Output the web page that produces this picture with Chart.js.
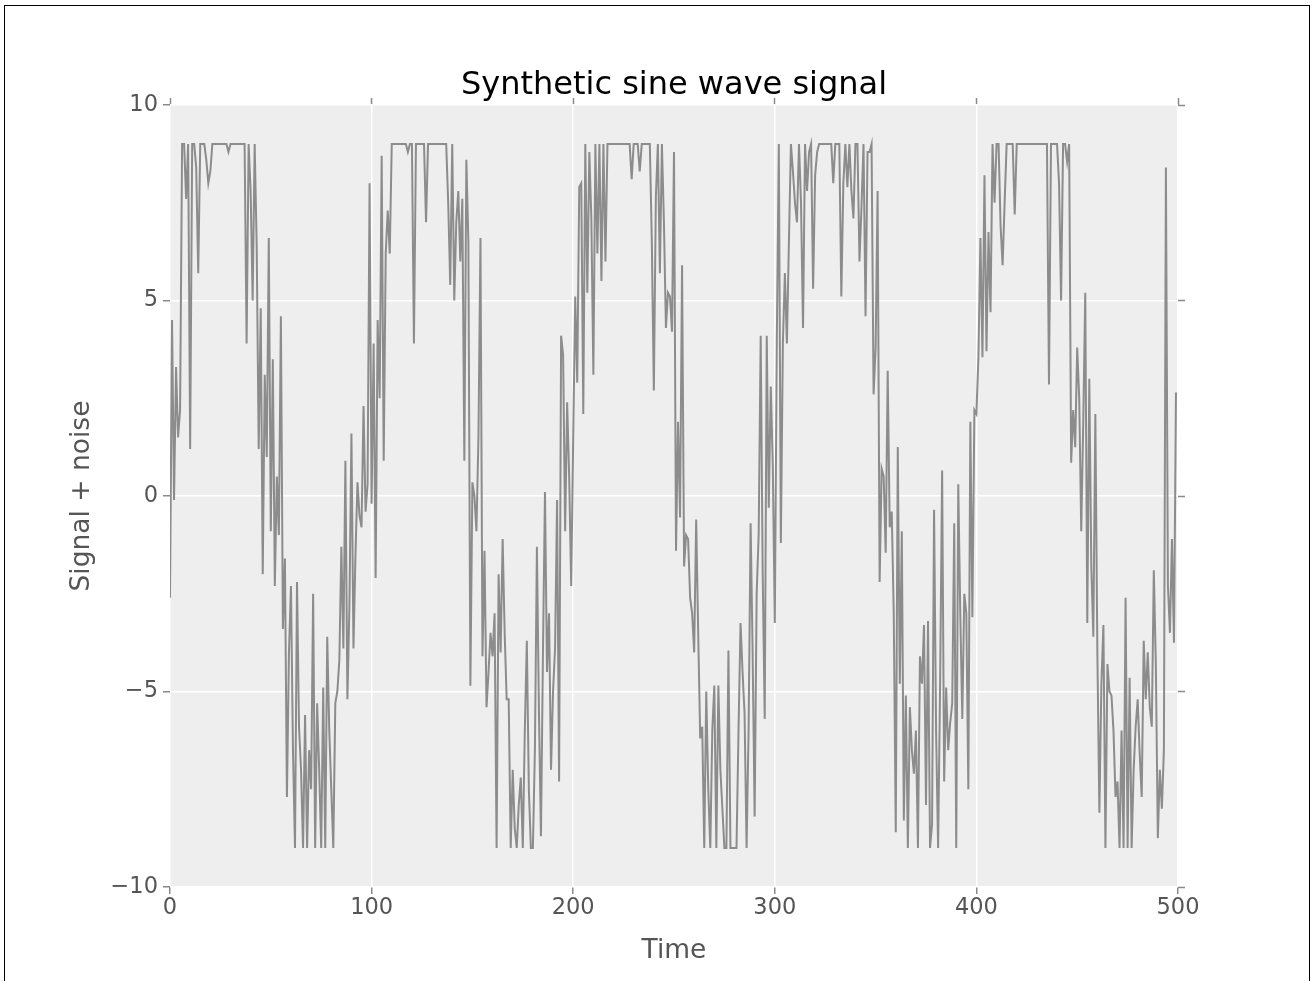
<!DOCTYPE html>
<html><head><meta charset="utf-8">
<script src="https://cdn.jsdelivr.net/npm/chart.js@4.4.1/dist/chart.umd.min.js"></script>
<style>
html,body{margin:0;padding:0;background:#fff;}
#wrap{position:relative;width:1315px;height:981px;overflow:hidden;}
#frame{position:absolute;left:4px;top:5px;width:1306px;height:1000px;border:1.5px solid #000;box-sizing:border-box;pointer-events:none;}
canvas{position:absolute;left:0;top:0;}
</style></head><body>
<div id="wrap"><canvas id="c" width="1315" height="981"></canvas><div id="frame"></div></div>
<script>
const signal = [
 -2.6, 4.5, -0.1, 3.3, 1.5, 2.2, 9.0, 9.0, 7.6, 9.0,
 1.2, 9.0, 9.0, 8.4, 5.7, 9.0, 9.0, 9.0, 8.6, 8.0,
 8.3, 9.0, 9.0, 9.0, 9.0, 9.0, 9.0, 9.0, 9.0, 8.8,
 9.0, 9.0, 9.0, 9.0, 9.0, 9.0, 9.0, 9.0, 3.9, 9.0,
 7.8, 5.0, 9.0, 6.4, 1.2, 4.8, -2.0, 3.1, 1.0, 6.6,
 -0.9, 3.5, -2.3, 0.5, -1.0, 4.6, -3.4, -1.6, -7.7, -4.0,
 -2.3, -6.5, -9.0, -2.2, -5.9, -7.0, -9.0, -5.6, -9.0, -6.5,
 -7.5, -2.5, -9.0, -5.3, -7.0, -9.0, -4.9, -9.0, -3.6, -6.0,
 -7.5, -9.0, -5.3, -5.0, -4.2, -1.3, -3.9, 0.9, -5.2, -2.8,
 1.6, -3.9, -1.5, 0.35, -0.5, -0.8, 2.3, -0.4, 0.3, 8.0,
 -0.2, 3.9, -2.1, 4.5, 2.5, 8.7, 0.9, 6.2, 7.3, 6.2,
 9.0, 9.0, 9.0, 9.0, 9.0, 9.0, 9.0, 9.0, 8.8, 9.0,
 9.0, 3.9, 9.0, 9.0, 9.0, 9.0, 9.0, 7.0, 9.0, 9.0,
 9.0, 9.0, 9.0, 9.0, 9.0, 9.0, 9.0, 9.0, 7.5, 5.4,
 9.0, 5.0, 7.0, 7.8, 6.0, 7.6, 0.9, 8.6, 6.5, -4.85,
 0.35, 0.0, -0.9, 1.5, 6.6, -4.1, -1.4, -5.4, -4.5, -3.5,
 -4.1, -3.0, -9.0, -2.0, -4.0, -1.1, -3.5, -5.2, -5.2, -9.0,
 -7.0, -8.5, -9.0, -7.9, -7.2, -9.0, -6.0, -3.7, -7.5, -9.0,
 -9.0, -6.5, -1.3, -5.5, -8.7, -4.0, 0.1, -4.5, -3.0, -7.0,
 -5.0, -3.9, -0.1, -7.3, 4.1, 3.6, -0.9, 2.4, 0.5, -2.3,
 1.5, 5.1, 2.9, 7.9, 8.0, 2.1, 9.0, 5.2, 8.8, 7.1,
 3.1, 9.0, 6.2, 9.0, 5.5, 9.0, 6.0, 9.0, 9.0, 9.0,
 9.0, 9.0, 9.0, 9.0, 9.0, 9.0, 9.0, 9.0, 9.0, 8.1,
 9.0, 9.0, 9.0, 8.3, 9.0, 9.0, 9.0, 9.0, 9.0, 6.5,
 2.7, 7.65, 9.0, 5.7, 9.0, 7.0, 4.3, 5.2, 5.1, 4.2,
 8.8, -1.4, 1.9, -0.55, 5.9, -1.8, -1.0, -1.1, -2.6, -3.0,
 -4.0, -0.6, -3.5, -6.2, -5.9, -9.0, -5.0, -7.5, -9.0, -6.0,
 -4.85, -9.0, -4.85, -7.0, -8.0, -9.0, -9.0, -3.95, -9.0, -9.0,
 -9.0, -9.0, -6.0, -3.25, -4.5, -5.55, -9.0, -6.0, -0.7, -4.0,
 -8.2, -2.5, -1.0, 4.1, -2.0, -5.7, 4.1, -0.3, 2.8, 0.8,
 -3.25, 4.0, 9.0, -1.2, 3.9, 5.7, 3.9, 6.5, 9.0, 8.3,
 7.5, 7.0, 9.0, 7.5, 4.3, 9.0, 7.8, 8.8, 9.0, 5.3,
 8.2, 8.8, 9.0, 9.0, 9.0, 9.0, 9.0, 9.0, 9.0, 8.0,
 9.0, 9.0, 9.0, 5.1, 8.0, 9.0, 7.9, 9.0, 7.8, 7.1,
 9.0, 9.0, 6.0, 7.4, 9.0, 4.6, 8.8, 8.8, 9.0, 2.6,
 3.8, 7.8, -2.2, 0.7, 0.5, -1.45, 3.2, -0.8, -0.4, -3.0,
 -8.6, 1.25, -4.8, -0.9, -8.3, -5.1, -9.0, -5.4, -6.5, -7.1,
 -6.0, -9.0, -4.1, -4.8, -3.3, -7.9, -3.2, -9.0, -8.4, -0.35,
 -6.0, -9.0, -4.8, 0.65, -7.3, -4.9, -6.5, -5.8, -5.3, -0.7,
 -9.0, 0.3, -3.0, -5.7, -2.5, -3.0, -7.5, 1.9, -3.1, 2.2,
 2.1, 3.55, 6.6, 3.55, 8.2, 3.7, 6.75, 4.7, 9.0, 7.5,
 9.0, 9.0, 6.9, 5.9, 7.5, 9.0, 9.0, 9.0, 9.0, 7.2,
 9.0, 9.0, 9.0, 9.0, 9.0, 9.0, 9.0, 9.0, 9.0, 9.0,
 9.0, 9.0, 9.0, 9.0, 9.0, 9.0, 2.85, 9.0, 9.0, 9.0,
 9.0, 8.0, 5.0, 9.0, 9.0, 8.55, 9.0, 0.85, 2.2, 1.25,
 3.8, 2.5, -0.9, 1.9, 5.2, -3.25, 3.0, -1.8, -3.6, 2.1,
 -4.0, -8.1, -4.8, -3.3, -9.0, -4.3, -5.0, -5.1, -6.0, -7.7,
 -7.3, -9.0, -6.0, -9.0, -2.6, -9.0, -4.65, -9.0, -7.0, -5.9,
 -5.2, -6.6, -7.7, -3.7, -5.2, -4.0, -5.4, -5.9, -1.9, -4.3,
 -8.75, -7.0, -8.0, -6.5, 8.4, -2.3, -3.5, -1.1, -3.75, 2.65
];
const xTickValues = [0, 100, 200, 300, 400, 500];
const xTickLabels = ['0', '100', '200', '300', '400', '500'];
const yTickValues = [-10, -5, 0, 5, 10];
const yTickLabels = ['\u221210', '\u22125', '0', '5', '10'];
const titleText = 'Synthetic sine wave signal';
const xAxisLabel = 'Time';
const yAxisLabel = 'Signal + noise';

const FONT = '"DejaVu Sans", "Liberation Sans", sans-serif';
const TICKCOL = '#555555';
const TICKMARK = '#8a8a8a';

const points = signal.map((v, i) => ({x: i, y: v}));

const plotBg = {
  id: 'plotBg',
  beforeDraw(chart) {
    const a = chart.chartArea, ctx = chart.ctx;
    ctx.save();
    ctx.fillStyle = '#eeeeee';
    ctx.fillRect(a.left, a.top, a.right - a.left, a.bottom - a.top);
    ctx.restore();
  }
};

function fixTicks(values) {
  return function(scale) { scale.ticks = values.map(v => ({value: v})); };
}
function labelFrom(values, labels) {
  return function(v) { const i = values.indexOf(v); return i >= 0 ? labels[i] : ''; };
}

new Chart(document.getElementById('c'), {
  type: 'line',
  data: {
    datasets: [{
      data: points,
      borderColor: '#8c8c8c',
      borderWidth: 2,
      pointRadius: 0,
      tension: 0,
      fill: false
    }]
  },
  options: {
    responsive: false,
    animation: false,
    events: [],
    layout: {padding: 0},
    plugins: {
      legend: {display: false},
      tooltip: {enabled: false},
      title: {
        display: true,
        fullSize: false,
        text: titleText,
        color: '#000000',
        font: {family: FONT, size: 32, weight: 'normal', lineHeight: 1.2},
        padding: {top: 66, bottom: 0}
      }
    },
    scales: {
      x: {
        type: 'linear', position: 'bottom', min: 0, max: 500,
        afterBuildTicks: fixTicks(xTickValues),
        afterFit(s) { s.height = 94; },
        border: {display: false},
        grid: {color: '#ffffff', lineWidth: 1.5, tickColor: TICKMARK, tickLength: 7, tickWidth: 1.5},
        ticks: {color: TICKCOL, font: {family: FONT, size: 22.5}, padding: 1, maxRotation: 0,
                callback: labelFrom(xTickValues, xTickLabels)},
        title: {display: true, text: xAxisLabel, color: TICKCOL,
                font: {family: FONT, size: 26.5, lineHeight: 1.2}, padding: {top: 0, bottom: 14}}
      },
      x2: {
        type: 'linear', position: 'top', min: 0, max: 500,
        afterBuildTicks: fixTicks(xTickValues),
        afterFit(s) { s.height = 0.6; },
        border: {display: false},
        grid: {drawOnChartArea: false, tickColor: TICKMARK, tickLength: 7, tickWidth: 1.5},
        ticks: {display: false}
      },
      y: {
        type: 'linear', position: 'left', min: -10, max: 10,
        afterBuildTicks: fixTicks(yTickValues),
        afterFit(s) { s.width = 170; },
        border: {display: false},
        grid: {color: '#ffffff', lineWidth: 1.5, tickColor: TICKMARK, tickLength: 7, tickWidth: 1.5},
        ticks: {color: TICKCOL, font: {family: FONT, size: 22.5}, padding: 5,
                callback: labelFrom(yTickValues, yTickLabels)},
        title: {display: true, text: yAxisLabel, color: TICKCOL,
                font: {family: FONT, size: 26.5, lineHeight: 1.2}, padding: {top: 66, bottom: 0}}
      },
      y2: {
        type: 'linear', position: 'right', min: -10, max: 10,
        afterBuildTicks: fixTicks(yTickValues),
        afterFit(s) { s.width = 137; },
        border: {display: false},
        grid: {drawOnChartArea: false, tickColor: TICKMARK, tickLength: 7, tickWidth: 1.5},
        ticks: {display: false}
      }
    }
  },
  plugins: [plotBg]
});
</script>
</body></html>
